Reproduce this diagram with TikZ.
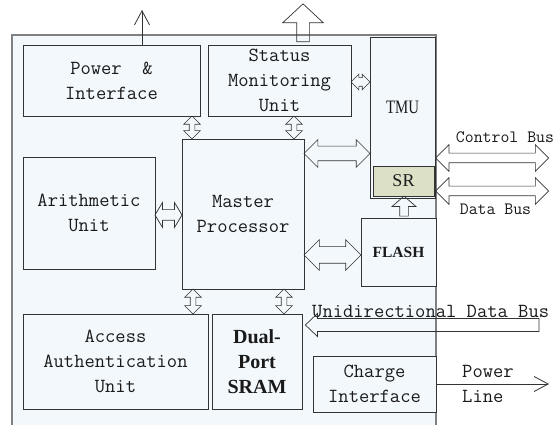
\documentclass[tikz,border=0pt]{standalone}
\usepackage{fontspec}
\usepackage{graphicx}
\newfontfamily\tnr{Liberation Serif}
\usetikzlibrary{shapes.arrows,arrows.meta,calc}
\definecolor{bgc}{HTML}{F3F8FC}
\definecolor{boxline}{HTML}{333333}
\definecolor{outline}{HTML}{808080}
\definecolor{srfill}{HTML}{DCE0C6}
\definecolor{txt}{HTML}{1A1A1A}
\begin{document}
\begin{tikzpicture}[x=1pt,y=-1pt,
  box/.style={draw=boxline, line width=0.8pt, fill=bgc, inner sep=0pt, align=center, text=txt, font=\ttfamily\fontsize{20}{25}\selectfont},
  dar/.style n args={4}{double arrow, draw=boxline, line width=0.7pt, inner xsep=0pt, inner ysep=#2pt, minimum width=0pt, minimum height=#1pt, double arrow head extend=#3pt, double arrow tip angle=#4},
  sar/.style n args={4}{single arrow, draw=boxline, line width=0.7pt, inner xsep=0pt, inner ysep=#2pt, minimum width=0pt, minimum height=#1pt, single arrow head extend=#3pt, single arrow tip angle=#4},
  arrline/.style={draw=boxline, line width=0.7pt, line join=miter},
  barb/.style={draw=boxline, line width=0.8pt, -{Straight Barb[length=14pt,width=15pt]}},
  lbl/.style={text=txt, inner sep=0pt, font=\ttfamily\fontsize{20}{25}\selectfont},
]
\useasboundingbox (0,0) rectangle (558,425);
\fill[bgc] (12,35) rectangle (436,426);
\draw[outline, line width=1.2pt] (12,426) -- (12,35) -- (436,35) -- (436,426);

\node[box, minimum width=177pt, minimum height=71pt] (pw) at (111.5,80.5) {Power\ \ \&\\Interface};
\node[box, minimum width=143pt, minimum height=71pt] (sm) at (279.5,80.5) {Status\\Monitoring\\Unit};
\node[box, minimum width=65pt, minimum height=161pt] (tmu) at (402.5,117.5) {};
\node[text=txt, inner sep=0pt, font=\tnr\fontsize{19}{19}\selectfont] (tmut) at (402.5,107) {\scalebox{0.78}[1]{TMU}};
\node[box, fill=srfill, minimum width=61pt, minimum height=30pt, font=\tnr\fontsize{18}{18}\selectfont] (sr) at (403.5,181) {SR};
\node[box, minimum width=122pt, minimum height=150pt] (mp) at (243,214) {Master\\Processor};
\node[box, minimum width=132pt, minimum height=112pt] (au) at (89,213) {Arithmetic\\Unit};
\node[box, minimum width=75pt, minimum height=68pt, font=\tnr\bfseries\fontsize{15.5}{18}\selectfont] (fl) at (398.5,252) {FLASH};
\node[box, minimum width=185pt, minimum height=95pt] (aa) at (115.5,361.5) {Access\\Authentication\\Unit};
\node[box, minimum width=90pt, minimum height=95pt, font=\tnr\bfseries\fontsize{20}{25}\selectfont] (sram) at (257,361.5) {Dual-\\Port\\SRAM};
\node[box, minimum width=123pt, minimum height=56pt] (ci) at (374.5,384) {Charge\\Interface};

% Power - MP
\coordinate (x1) at (192,0);
\node[dar={23}{2.5}{5.5}{90}, rotate=90] (a1) at ($(pw.south -| x1)!.5!(mp.north -| x1)$) {};
% Status - MP
\coordinate (x2) at (294,0);
\node[dar={23}{2.5}{5.5}{90}, rotate=90] (a2) at ($(sm.south -| x2)!.5!(mp.north -| x2)$) {};
% Status - TMU
\coordinate (y3) at (0,82);
\node[dar={19}{4}{3.5}{90}] (a3) at ($(sm.east |- y3)!.5!(tmu.west |- y3)$) {};
% Arithmetic - MP
\coordinate (y4) at (0,215);
\node[dar={27}{5}{7}{118}] (a4) at ($(au.east |- y4)!.5!(mp.west |- y4)$) {};
% MP - TMU
\coordinate (y5) at (0,153.5);
\node[dar={66}{7}{6.5}{90}] (a5) at ($(mp.east |- y5)!.5!(tmu.west |- y5)$) {};
% MP - FLASH
\coordinate (y6) at (0,255);
\node[dar={57}{8}{7}{90}] (a6) at ($(mp.east |- y6)!.5!(fl.west |- y6)$) {};
% FLASH -> SR
\coordinate (x7) at (404,0);
\node[sar={20}{4}{7.5}{98}, rotate=90] (a7) at ($(fl.north -| x7)!.5!(tmu.south -| x7)$) {};
% Control bus
\coordinate (cb) at (549,158);
\node[dar={113}{4.5}{8.5}{90}] (a8) at ($(tmu.east |- cb)!.5!(cb)$) {};
% Data bus
\coordinate (db) at (549,191);
\node[dar={113}{4.5}{8.5}{90}] (a9) at ($(tmu.east |- db)!.5!(db)$) {};
% MP - Access
\coordinate (x10) at (193,0);
\node[dar={25}{2.5}{5.5}{90}, rotate=90] (a10) at ($(mp.south -| x10)!.5!(aa.north -| x10)$) {};
% MP - SRAM
\coordinate (x11) at (284,0);
\node[dar={25}{2.5}{5.5}{90}, rotate=90] (a11) at ($(mp.south -| x11)!.5!(sram.north -| x11)$) {};
% Unidirectional data bus (hollow arrow, tail ub -> tip ut)
\coordinate (ub) at (539,325);
\path (sram.east |- ub) ++(3,0) coordinate (ut);
\draw[arrline] (ut) -- ++(12,-11.5) -- ++(0,5) -- ($(ub)+(0,-6.5)$) -- ($(ub)+(0,6.5)$)
  -- ($(ut)+(12,6.5)$) -- ++(0,5) -- cycle;
% Status big up arrow
\coordinate (x13) at (303,7);
\node[sar={38}{6}{14}{94}, rotate=90] (a13) at ($(sm.north -| x13)!.5!(x13)$) {};
% Power up line
\coordinate (pu) at (142,10);
\draw[barb] (pw.north -| pu) -- (pu);
% Power line
\coordinate (pl) at (549,384);
\draw[barb] (ci.east |- pl) -- (pl);

% labels
\node[lbl, font=\ttfamily\fontsize{17.3}{20}\selectfont] (lcb) at (505,137) {Control Bus};
\node[lbl, font=\ttfamily\fontsize{17.3}{20}\selectfont] (ldb) at (495.5,209) {Data Bus};
\node[lbl, anchor=west] (lub) at (312,312) {Unidirectional Data Bus};
\node[lbl, anchor=west, align=left] (lpl) at (462,384) {Power\\Line};
\end{tikzpicture}
\end{document}
